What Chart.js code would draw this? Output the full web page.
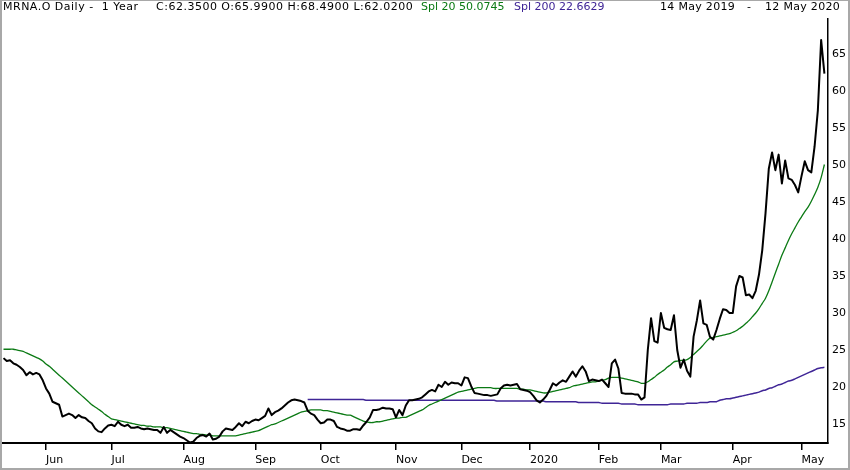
<!DOCTYPE html>
<html>
<head>
<meta charset="utf-8">
<script src="https://cdn.jsdelivr.net/npm/chart.js@4.4.1/dist/chart.umd.min.js"></script>
<style>
  html, body { margin: 0; padding: 0; background: #fff; }
  #wrap { position: relative; width: 850px; height: 470px; overflow: hidden; background: #fff; }
  #c { position: absolute; left: 0; top: 0; }
  .hdr { position: absolute; top: 1px; font: 11px "DejaVu Sans", sans-serif; line-height: 12px; white-space: pre; color: #000; }
  .wide { letter-spacing: 0.5px; }
  .mid { letter-spacing: 0.3px; }
  #frame { position: absolute; left: 0; top: 0; width: 850px; height: 470px; box-sizing: border-box;
           border: 2px solid #a8a8a8; border-top-width: 1px; pointer-events: none; }
</style>
</head>
<body>
<div id="wrap">
  <canvas id="c" width="850" height="470"></canvas>
  <span class="hdr wide" style="left:3px">MRNA.O Daily -  1 Year</span>
  <span class="hdr wide" style="left:156px">C:62.3500 O:65.9900 H:68.4900 L:62.0200</span>
  <span class="hdr" style="left:421px;color:#0b7a14">Spl 20 50.0745</span>
  <span class="hdr" style="left:514px;color:#3f2596">Spl 200 22.6629</span>
  <span class="hdr mid" style="left:660px">14 May 2019</span>
  <span class="hdr" style="left:747px">-</span>
  <span class="hdr mid" style="left:765px">12 May 2020</span>
  <div id="frame"></div>
</div>
<script>
// Daily closes, 14 May 2019 .. 12 May 2020 (one value per trading day)
const closes = [
23.9,23.5,23.6,23.2,23.0,22.7,22.3,21.6,22.0,21.7,
21.9,21.7,20.9,19.8,19.1,18.0,17.8,17.6,16.0,16.2,
16.4,16.2,15.8,16.2,15.9,15.8,15.4,15.1,14.4,14.0,
13.9,14.4,14.8,14.9,14.7,15.3,14.9,14.7,14.9,14.5,
14.5,14.6,14.4,14.3,14.4,14.3,14.2,14.2,13.8,14.6,
13.8,14.2,13.9,13.6,13.3,13.1,12.8,12.5,12.6,13.1,
13.4,13.5,13.3,13.7,12.9,13.0,13.3,14.0,14.4,14.3,
14.2,14.6,15.1,14.7,15.3,15.1,15.4,15.6,15.5,15.8,
16.1,17.1,16.2,16.6,16.8,17.1,17.5,17.9,18.2,18.3,
18.2,18.1,17.9,16.8,16.4,16.2,15.6,15.1,15.2,15.6,
15.6,15.4,14.6,14.4,14.3,14.1,14.1,14.3,14.3,14.2,
14.8,15.3,15.9,16.9,16.9,17.0,17.2,17.1,17.1,17.0,
15.9,16.9,16.2,17.5,18.2,18.2,18.3,18.4,18.6,19.0,
19.4,19.6,19.4,20.3,20.0,20.7,20.3,20.6,20.5,20.5,
20.2,21.3,21.2,20.1,19.2,19.1,19.0,18.9,18.9,18.8,
18.9,19.0,19.8,20.2,20.3,20.2,20.3,20.4,19.7,19.6,
19.5,19.3,18.8,18.2,17.9,18.3,18.8,19.6,20.5,20.2,
20.6,20.9,20.7,21.4,22.1,21.4,22.2,22.8,22.1,20.8,
21.0,20.9,20.8,21.0,20.5,20.0,23.2,23.7,22.5,19.2,
19.1,19.1,19.1,19.0,19.0,18.3,18.6,25.0,29.3,26.2,
26.0,30.0,28.0,27.8,27.7,29.7,25.0,22.6,23.7,22.2,
21.4,26.8,29.0,31.7,28.6,28.4,26.8,26.4,27.7,29.2,
30.5,30.4,30.0,30.0,33.6,35.0,34.8,32.4,32.5,32.0,
33.0,35.2,38.5,43.5,49.5,51.7,49.3,51.4,47.5,50.6,
48.2,48.0,47.3,46.3,48.5,50.5,49.3,49.0,52.5,57.4,
66.9,62.35
];

// Spl 20 (green)
const spl20 = [
25.1,25.1,25.1,25.1,25.0,24.9,24.8,24.6,24.4,24.2,
24.0,23.8,23.5,23.1,22.8,22.4,22.0,21.6,21.2,20.8,
20.4,20.0,19.6,19.2,18.8,18.4,18.0,17.6,17.3,17.0,
16.7,16.3,16.0,15.7,15.6,15.5,15.4,15.3,15.2,15.1,
15.0,14.9,14.8,14.8,14.7,14.7,14.6,14.6,14.6,14.5,
14.5,14.4,14.3,14.2,14.1,14.0,13.9,13.8,13.7,13.7,
13.6,13.6,13.5,13.5,13.4,13.4,13.4,13.4,13.4,13.4,
13.4,13.4,13.5,13.6,13.7,13.8,13.9,14.0,14.1,14.3,
14.5,14.7,14.9,15.0,15.2,15.4,15.6,15.8,16.0,16.2,
16.4,16.6,16.7,16.8,16.9,16.9,16.9,16.9,16.8,16.8,
16.7,16.6,16.5,16.4,16.3,16.2,16.2,16.0,15.8,15.6,
15.4,15.3,15.2,15.2,15.3,15.3,15.4,15.5,15.6,15.7,
15.8,15.8,15.9,15.9,16.1,16.3,16.5,16.7,16.9,17.2,
17.5,17.7,17.9,18.1,18.3,18.5,18.7,18.9,19.1,19.3,
19.4,19.5,19.6,19.7,19.8,19.9,19.9,19.9,19.9,19.9,
19.8,19.8,19.8,19.8,19.8,19.8,19.8,19.8,19.7,19.7,
19.6,19.6,19.5,19.4,19.3,19.2,19.2,19.3,19.4,19.5,
19.6,19.7,19.8,19.9,20.1,20.2,20.3,20.4,20.5,20.6,
20.7,20.7,20.8,20.9,21.0,21.2,21.3,21.3,21.3,21.2,
21.1,21.0,20.9,20.8,20.7,20.5,20.5,20.7,21.0,21.3,
21.7,22.0,22.3,22.7,23.0,23.4,23.5,23.6,23.6,23.7,
24.0,24.4,24.8,25.2,25.7,26.2,26.6,26.7,26.8,26.9,
27.0,27.1,27.2,27.4,27.6,27.9,28.2,28.6,29.0,29.5,
30.0,30.6,31.3,32.0,33.0,34.2,35.4,36.6,37.8,38.8,
39.8,40.7,41.5,42.3,43.0,43.7,44.3,45.1,46.0,47.0,
48.3,50.07
];

// Spl 200 (purple), begins at trading day index 93
const spl200Start = 93;
const spl200 = [
18.3,18.3,18.3,18.3,18.3,18.3,18.3,
18.3,18.3,18.3,18.3,18.3,18.3,18.3,18.3,18.3,18.3,
18.3,18.2,18.2,18.2,18.2,18.2,18.2,18.2,18.2,18.2,
18.2,18.2,18.2,18.2,18.2,18.2,18.2,18.2,18.2,18.2,
18.2,18.2,18.2,18.2,18.2,18.2,18.2,18.2,18.2,18.2,
18.2,18.2,18.2,18.2,18.2,18.2,18.2,18.2,18.2,18.2,
18.2,18.1,18.1,18.1,18.1,18.1,18.1,18.1,18.1,18.1,
18.1,18.1,18.1,18.1,18.1,18.1,18.0,18.0,18.0,18.0,
18.0,18.0,18.0,18.0,18.0,18.0,17.9,17.9,17.9,17.9,
17.9,17.9,17.9,17.8,17.8,17.8,17.8,17.8,17.8,17.7,
17.7,17.7,17.7,17.7,17.6,17.6,17.6,17.6,17.6,17.6,
17.6,17.6,17.6,17.6,17.7,17.7,17.7,17.7,17.7,17.8,
17.8,17.8,17.8,17.9,17.9,17.9,18.0,18.0,18.0,18.2,
18.3,18.4,18.4,18.5,18.6,18.7,18.8,18.9,19.0,19.1,
19.2,19.3,19.5,19.6,19.8,19.9,20.1,20.3,20.4,20.6,
20.8,20.9,21.1,21.3,21.5,21.7,21.9,22.1,22.3,22.5,
22.6,22.66
];

// Month tick positions (trading-day index of first session of each month) and labels
const monthTickIdx = [13, 33, 55, 77, 97, 120, 140, 161, 182, 201, 223, 244];
const monthTickLabels = ['Jun','Jul','Aug','Sep','Oct','Nov','Dec','2020','Feb','Mar','Apr','May'];
const yTickValues = [15, 20, 25, 30, 35, 40, 45, 50, 55, 60, 65];

const closePts = closes.map((v, i) => ({ x: i, y: v }));
const spl20Pts = spl20.map((v, i) => ({ x: i, y: v }));
const spl200Pts = spl200.map((v, k) => ({ x: spl200Start + k, y: v }));

new Chart(document.getElementById('c'), {
  type: 'line',
  data: {
    datasets: [
      { label: 'Spl 200', data: spl200Pts, borderColor: '#3f2596', borderWidth: 1.5, pointRadius: 0, tension: 0.2, order: 3 },
      { label: 'Spl 20', data: spl20Pts, borderColor: '#0b7a14', borderWidth: 1.3, pointRadius: 0, tension: 0.3, order: 2 },
      { label: 'MRNA.O', data: closePts, borderColor: '#000', borderWidth: 2, pointRadius: 0, tension: 0, borderJoinStyle: 'round', order: 1 }
    ]
  },
  options: {
    responsive: false,
    animation: false,
    devicePixelRatio: 1,
    layout: { padding: { top: 19, left: 2, right: 0, bottom: 0 } },
    plugins: { legend: { display: false }, tooltip: { enabled: false } },
    scales: {
      x: {
        type: 'linear',
        min: -0.46,
        max: 252.1,
        afterBuildTicks: (s) => { s.ticks = monthTickIdx.map(v => ({ value: v })); },
        afterFit: (s) => { s.height = 27; },
        ticks: {
          autoSkip: false, maxRotation: 0, minRotation: 0, align: 'start', padding: 4,
          color: '#000', font: { family: 'DejaVu Sans', size: 11 },
          callback: (v) => { const k = monthTickIdx.indexOf(v); return k >= 0 ? monthTickLabels[k] : ''; }
        },
        grid: { display: true, drawOnChartArea: false, drawTicks: true, tickLength: 7, color: '#000', lineWidth: 1.5 },
        border: { display: true, color: '#000', width: 2 }
      },
      y: {
        position: 'right',
        min: 12.43,
        max: 69.73,
        afterBuildTicks: (s) => { s.ticks = yTickValues.map(v => ({ value: v })); },
        afterFit: (s) => { s.width = 22; },
        ticks: { padding: 4, color: '#000', font: { family: 'DejaVu Sans', size: 11 } },
        grid: { display: false, drawTicks: false },
        border: { display: true, color: '#000', width: 1.5 }
      }
    }
  }
});
</script>
</body>
</html>
